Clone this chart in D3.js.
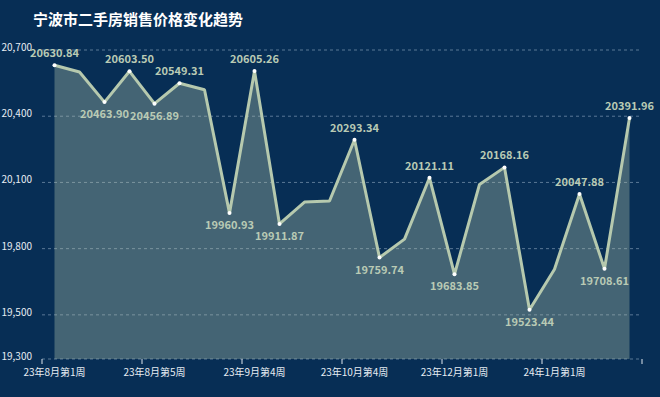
<!DOCTYPE html>
<meta charset="utf-8">
<title>宁波市二手房销售价格变化趋势</title>
<style>
*{ margin: 0; padding: 0; }
body{
  background: #072e55;
  font-family: "Noto Sans CJK SC", "Open Sans", sans-serif;
}
.grid line{ stroke: #5a7896; stroke-dasharray: 3,3; }
.ylabels text{ fill: #e6ecf2; font-size: 10px; }
.xaxis text{ fill: #e6ecf2; font-size: 10px; }
.vlabel{ fill: #b9cab4; font-size: 11px; font-weight: bold; }
</style>
<body>
<script src="https://d3js.org/d3.v7.min.js"></script>
<div id="chart"></div>
<script>

var width = 660, height = 397;

// weeks (category axis)
var weeks = ["23年8月第1周", "23年8月第2周", "23年8月第3周", "23年8月第4周",
  "23年8月第5周", "23年9月第1周", "23年9月第2周", "23年9月第3周",
  "23年9月第4周", "23年10月第1周", "23年10月第2周", "23年10月第3周",
  "23年10月第4周", "23年11月第1周", "23年11月第2周", "23年11月第4周",
  "23年12月第1周", "23年12月第2周", "23年12月第3周", "23年12月第4周",
  "24年1月第1周", "24年1月第2周", "24年1月第3周", "24年1月第4周"];

// price per week
var prices = [20630.84, 20600, 20463.90, 20603.50, 20456.89, 20549.31, 20520,
  19960.93, 20605.26, 19911.87, 20011, 20016, 20293.34, 19759.74, 19843,
  20121.11, 19683.85, 20091, 20168.16, 19523.44, 19707, 20047.88, 19708.61, 20391.96];

// which points get a value label, and where (1 = above, -1 = below, 0 = none)
var labelPos = [1, 0, -1, 1, -1, 1, 0, -1, 1, -1, 0, 0, 1, -1, 0, 1, -1, 0, 1, -1, 0, 1, -1, 1];

var yTicks = [19300, 19500, 19800, 20100, 20400, 20700];

var margin = {top: 50, right: 18, bottom: 38, left: 42};

var svg = d3.select("#chart").append("svg")
  .attr("width", width)
  .attr("height", height);

var x = d3.scaleBand()
  .domain(weeks)
  .range([margin.left, width - margin.right]);

var y = d3.scaleLinear()
  .domain([19300, 20700])
  .range([height - margin.bottom, margin.top]);

var cx = function(i){ return x(weeks[i]) + x.bandwidth() / 2; };

// title
svg.append("text")
  .attr("x", 33)
  .attr("y", 25)
  .attr("fill", "#fff")
  .style("font-size", "15px")
  .style("font-weight", "bold")
  .text("宁波市二手房销售价格变化趋势");

// grid
svg.append("g")
  .attr("class", "grid")
  .selectAll("line")
  .data(yTicks)
  .enter().append("line")
  .attr("x1", margin.left)
  .attr("x2", width - margin.right)
  .attr("y1", function(d){ return y(d); })
  .attr("y2", function(d){ return y(d); });

svg.append("g")
  .attr("class", "ylabels")
  .selectAll("text")
  .data(yTicks)
  .enter().append("text")
  .attr("x", 32)
  .attr("y", function(d){ return y(d); })
  .attr("dy", "0.1em")
  .attr("text-anchor", "end")
  .text(d3.format(","));

// area + line
var area = d3.area()
  .x(function(d, i){ return cx(i); })
  .y0(y(19300))
  .y1(function(d){ return y(d); });

var line = d3.line()
  .x(function(d, i){ return cx(i); })
  .y(function(d){ return y(d); });

svg.append("path")
  .datum(prices)
  .attr("d", area)
  .attr("fill", "#b6c9ae")
  .attr("fill-opacity", 0.35);

svg.append("path")
  .datum(prices)
  .attr("d", line)
  .attr("fill", "none")
  .attr("stroke", "#b6c9ae")
  .attr("stroke-width", 3)
  .attr("stroke-linejoin", "bevel");

// x axis: ticks on band edges every 4 weeks, labels centred in the band
var xg = svg.append("g")
  .attr("class", "xaxis")
  .attr("transform", "translate(0," + y(19300) + ")");

var tickIdx = d3.range(0, weeks.length + 1, 4);
xg.selectAll("line")
  .data(tickIdx)
  .enter().append("line")
  .attr("x1", function(i){ return margin.left + i * x.bandwidth(); })
  .attr("x2", function(i){ return margin.left + i * x.bandwidth(); })
  .attr("y1", 0)
  .attr("y2", 5)
  .attr("stroke", "#dfe6ee");

xg.selectAll("text")
  .data(tickIdx.filter(function(i){ return i < weeks.length; }))
  .enter().append("text")
  .attr("x", function(i){ return cx(i); })
  .attr("y", 17)
  .attr("text-anchor", "middle")
  .text(function(i){ return weeks[i]; });

// markers + labels
var pts = prices.map(function(v, i){ return {v: v, i: i, pos: labelPos[i]}; })
  .filter(function(d){ return d.pos != 0; });

svg.selectAll(".dot")
  .data(pts)
  .enter().append("circle")
  .attr("class", "dot")
  .attr("cx", function(d){ return cx(d.i); })
  .attr("cy", function(d){ return y(d.v); })
  .attr("r", 2)
  .attr("fill", "#fff");

svg.selectAll(".vlabel")
  .data(pts)
  .enter().append("text")
  .attr("class", "vlabel")
  .attr("x", function(d){ return cx(d.i); })
  .attr("y", function(d){ return y(d.v) + (d.pos > 0 ? -8 : 16); })
  .attr("text-anchor", "middle")
  .text(function(d){ return d.v.toFixed(2); });

</script>
</body>
</html>
